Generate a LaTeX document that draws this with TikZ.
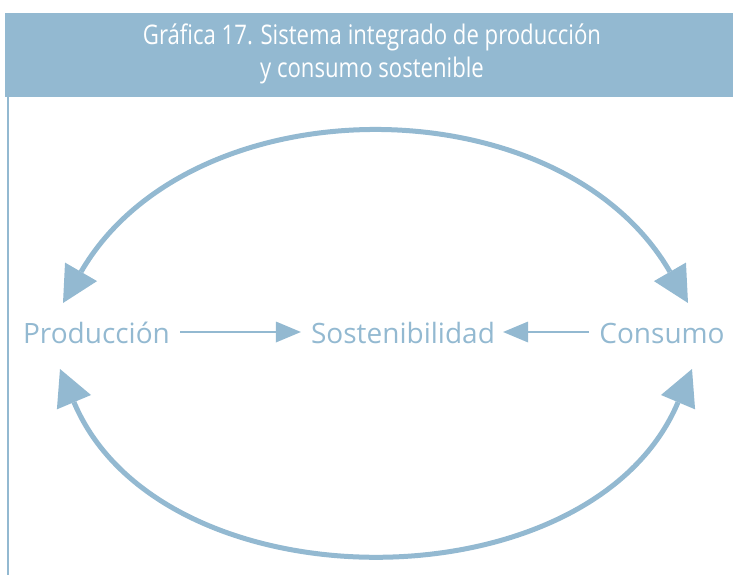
\documentclass[tikz,border=0pt]{standalone}
\usepackage{fontspec}
\setmainfont{Open Sans}
\newfontfamily\titlefont[FakeStretch=0.82]{Open Sans}
\usetikzlibrary{arrows.meta}
\definecolor{blu}{HTML}{93B9D1}
\begin{document}
\begin{tikzpicture}[x=1pt,y=-1pt,
  lbl/.style={text=blu, font=\fontsize{28}{32}\selectfont, inner sep=0pt, text height=22pt, text depth=0pt},
  smallarrow/.style={draw=blu, line width=2pt, -{Triangle[length=25pt,width=21pt,line width=0pt]}},
  bigarrow/.style={draw=blu, line width=5pt, {Triangle[length=36pt,width=37pt,line width=0pt]}-{Triangle[length=36pt,width=37pt,line width=0pt]}}]
\useasboundingbox (0,0) rectangle (733,575);
\fill[blu] (5,13) rectangle (733,97);
\draw[blu, line width=2pt] (8,97) -- (8,575);
\node[text=white, font=\titlefont\fontsize{27}{33}\selectfont, align=center] (title) at (372,54) {Gráfica 17. Sistema integrado de producción\\y consumo sostenible};
\node[lbl, anchor=base] (prod) at (96.5,343) {Producción};
\node[lbl, anchor=base] (sost) at (403,343) {Sostenibilidad};
\node[lbl, anchor=base] (cons) at (662,343) {Consumo};
\draw[smallarrow] ([xshift=10pt]prod.east) -- ([xshift=-10pt]sost.west);
\draw[smallarrow] ([xshift=-10pt]cons.west) -- ([xshift=8pt]sost.east);
\coordinate (tl) at (63,303);
\coordinate (tr) at (688,303);
\coordinate (bl) at (60,369);
\coordinate (br) at (692,369);
\draw[bigarrow] (tl) .. controls (191,82) and (560,82) .. (tr);
\draw[bigarrow] (bl) .. controls (161,609) and (591,609) .. (br);
\end{tikzpicture}
\end{document}
